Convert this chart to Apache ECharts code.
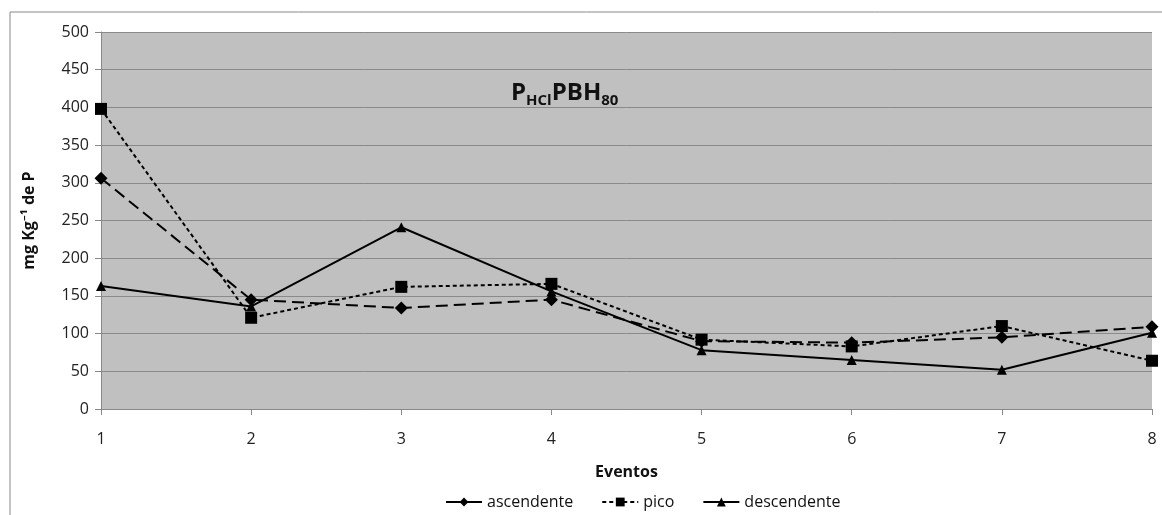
<!DOCTYPE html>
<html>
<head>
<meta charset="utf-8">
<script src="https://cdn.jsdelivr.net/npm/echarts@6/dist/echarts.min.js"></script>
<style>
  html, body { margin: 0; padding: 0; background: #fff; }
  #chart { width: 1162px; height: 515px; }
</style>
</head>
<body>
<div id="chart"></div>
<script>
// categorias (eventos)
var eventos = ['1', '2', '3', '4', '5', '6', '7', '8']
// series
var ascendente = [306, 145, 134, 145, 90, 88, 95, 109]
var pico = [398, 121, 162, 166, 92, 83, 110, 64]
var descendente = [163, 136, 241, 156, 78, 65, 52, 101]

var fonte = '"Open Sans", "Noto Sans", sans-serif'
var myChart = echarts.init(document.getElementById('chart'))

var option = {
  animation: false,
  backgroundColor: '#fff',
  textStyle: { fontFamily: fonte },
  graphic: [
    {
      type: 'rect',
      shape: { x: 10, y: 12, width: 1170, height: 520 },
      style: { fill: 'none', stroke: '#888', lineWidth: 1 },
      z: -1
    }
  ],
  title: {
    text: '{p|P}{s|HCl}{p|PBH}{s|80}',
    left: 506,
    top: 74,
    textStyle: {
      rich: {
        p: { fontSize: 24, fontWeight: 'bold', color: '#111', fontFamily: fonte },
        s: { fontSize: 15, fontWeight: 'bold', color: '#111', fontFamily: fonte, padding: [14, 0, 0, 0] }
      }
    }
  },
  grid: {
    left: 101,
    right: 10,
    top: 32,
    bottom: 106,
    show: true,
    backgroundColor: '#c0c0c0',
    borderWidth: 0
  },
  legend: {
    bottom: 0,
    left: 440,
    itemWidth: 36,
    itemHeight: 11,
    itemGap: 28,
    textStyle: { fontSize: 16, color: '#111', fontFamily: fonte },
    data: [
      { name: 'ascendente', lineStyle: { type: 'solid' } },
      { name: 'pico' },
      { name: 'descendente' }
    ]
  },
  xAxis: {
    type: 'category',
    data: eventos,
    boundaryGap: false,
    name: 'Eventos',
    nameLocation: 'middle',
    nameGap: 55,
    nameTextStyle: { fontSize: 16, fontWeight: 'bold', color: '#111' },
    axisLine: { lineStyle: { color: '#888' } },
    axisTick: { show: true, alignWithLabel: true, length: 6, lineStyle: { color: '#888' } },
    axisLabel: { fontSize: 16, color: '#222', margin: 22 },
    splitLine: { show: false }
  },
  yAxis: {
    type: 'value',
    min: 0,
    max: 500,
    interval: 50,
    name: 'mg Kg⁻¹ de P',
    nameLocation: 'middle',
    nameGap: 64,
    nameTextStyle: { fontSize: 16, fontWeight: 'bold', color: '#111' },
    axisLine: { show: true, lineStyle: { color: '#888' } },
    axisTick: { show: true, length: 6, lineStyle: { color: '#888' } },
    axisLabel: { fontSize: 16, color: '#222', margin: 12 },
    splitLine: { show: true, lineStyle: { color: '#8a8a8a', width: 1 } }
  },
  series: [
    {
      name: 'ascendente',
      type: 'line',
      data: ascendente,
      symbol: 'diamond',
      symbolSize: 13,
      itemStyle: { color: '#000' },
      lineStyle: { color: '#000', width: 2, type: [12, 6] }
    },
    {
      name: 'pico',
      type: 'line',
      data: pico,
      symbol: 'rect',
      symbolSize: 12,
      itemStyle: { color: '#000' },
      lineStyle: { color: '#000', width: 2, type: [4, 3] }
    },
    {
      name: 'descendente',
      type: 'line',
      data: descendente,
      symbol: 'triangle',
      symbolSize: 10,
      itemStyle: { color: '#000' },
      lineStyle: { color: '#000', width: 2, type: 'solid' }
    }
  ]
}

myChart.setOption(option)
window.onresize = function() {
  myChart.resize()
}
</script>
</body>
</html>
